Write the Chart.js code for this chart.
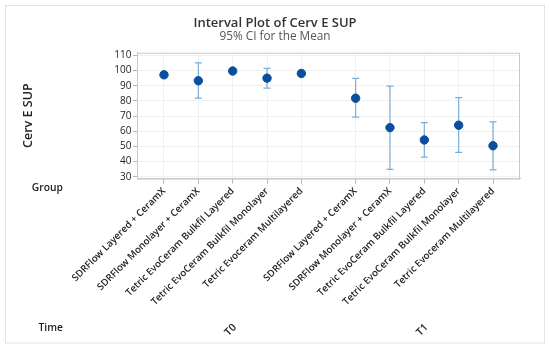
<!DOCTYPE html>
<html>
<head>
<meta charset="utf-8">
<script src="https://cdn.jsdelivr.net/npm/chart.js@4.4.0/dist/chart.umd.min.js"></script>
<style>
  html, body { margin: 0; padding: 0; background: #fff; }
  #wrap { width: 550px; height: 350px; }
</style>
</head>
<body>
<div id="wrap"><canvas id="chart"></canvas></div>
<script>
var groups = ['SDRFlow Layered + CeramX', 'SDRFlow Monolayer + CeramX', 'Tetric EvoCeram Bulkfil Layered', 'Tetric EvoCeram Bulkfil Monolayer', 'Tetric Evoceram Multilayered'];
var times = ['T0', 'T1'];
var meanT0 = [97.2, 93.3, 99.7, 95.0, 98.1];
var lowT0 = [95.6, 81.8, 98.8, 88.4, 97.0];
var highT0 = [98.8, 105.0, 100.6, 101.4, 99.2];
var meanT1 = [81.8, 62.4, 54.3, 64.0, 50.5];
var lowT1 = [69.3, 34.9, 43.0, 46.1, 34.6];
var highT1 = [94.8, 89.8, 65.7, 82.2, 66.2];
var yTicks = [30, 40, 50, 60, 70, 80, 90, 100, 110];

const FONT = "'Open Sans', 'Noto Sans', sans-serif";
const GAP = 0.58; // extra space between the two time blocks

const xOf = (t, i) => t * (groups.length + GAP) + i;

let points = [];
let xLabels = [];
[[meanT0, lowT0, highT0], [meanT1, lowT1, highT1]].forEach((s, t) => {
    groups.forEach((g, i) => {
        points.push({ x: xOf(t, i), y: s[0][i], lo: s[1][i], hi: s[2][i] });
        xLabels.push(g);
    });
});
const xMax = xOf(times.length - 1, groups.length - 1);

// error bars + extra labels
const intervalPlugin = {
    id: 'interval',
    beforeDraw: (chart) => {
        const ctx = chart.ctx;
        ctx.save();
        ctx.strokeStyle = '#e3e3e3';
        ctx.lineWidth = 1;
        ctx.strokeRect(5.5, 5.5, 539, 337.5);
        ctx.restore();
    },
    beforeDatasetsDraw: (chart) => {
        const ctx = chart.ctx, x = chart.scales.x, y = chart.scales.y;
        ctx.save();
        ctx.strokeStyle = '#78aedb';
        ctx.lineWidth = 1.2;
        for (const p of points) {
            let px = x.getPixelForValue(p.x);
            let y1 = y.getPixelForValue(p.lo), y2 = y.getPixelForValue(p.hi);
            ctx.beginPath();
            ctx.moveTo(px, y1); ctx.lineTo(px, y2);
            ctx.moveTo(px - 3.5, y1); ctx.lineTo(px + 3.5, y1);
            ctx.moveTo(px - 3.5, y2); ctx.lineTo(px + 3.5, y2);
            ctx.stroke();
        }
        ctx.restore();
    },
    afterDraw: (chart) => {
        const ctx = chart.ctx, x = chart.scales.x, a = chart.chartArea;
        ctx.save();
        // plot frame
        ctx.strokeStyle = '#c8c8c8';
        ctx.lineWidth = 1;
        ctx.strokeRect(a.left + 0.5, a.top + 0.5, a.right - a.left - 1, a.bottom - a.top);
        ctx.fillStyle = '#222';
        ctx.font = "600 10.3px " + FONT;
        ctx.textAlign = 'right';
        ctx.textBaseline = 'middle';
        ctx.fillText('Group', 63, 188);
        ctx.fillText('Time', 63, 328);
        ctx.textAlign = 'center';
        times.forEach((t, k) => {
            let cx = x.getPixelForValue(xOf(k, (groups.length - 1) / 2));
            ctx.save();
            ctx.translate(cx - 2, 330);
            ctx.rotate(-Math.PI / 4);
            ctx.fillText(t, 0, 0);
            ctx.restore();
        });
        ctx.restore();
    }
};

new Chart(document.getElementById('chart'), {
    type: 'scatter',
    data: {
        datasets: [{
            data: points,
            backgroundColor: '#0a4f9e',
            borderColor: '#0a4f9e',
            pointRadius: 4.2,
            pointHoverRadius: 4.2
        }]
    },
    options: {
        responsive: true,
        maintainAspectRatio: false,
        animation: false,
        layout: { padding: { top: 16.5, left: 30, right: 30, bottom: 0 } },
        plugins: {
            legend: { display: false },
            tooltip: { enabled: false },
            title: {
                display: true,
                text: 'Interval Plot of Cerv E SUP',
                color: '#333',
                font: { family: FONT, size: 13, weight: '600', lineHeight: 1.0 },
                padding: { top: 0, bottom: 0 }
            },
            subtitle: {
                display: true,
                text: '95% CI for the Mean',
                color: '#555',
                font: { family: FONT, size: 11.8, weight: 'normal', lineHeight: 1.0 },
                padding: { top: 1.5, bottom: 10 }
            }
        },
        scales: {
            x: {
                type: 'linear',
                min: -0.786,
                max: xMax + 0.786,
                afterFit: (scale) => { scale.height = 171.5; },
                afterBuildTicks: (scale) => { scale.ticks = points.map(p => ({ value: p.x })); },
                grid: { color: '#f0f0f0', tickColor: '#b5b5b5', tickLength: 5 },
                border: { color: '#c8c8c8' },
                ticks: {
                    autoSkip: false,
                    minRotation: 45,
                    maxRotation: 45,
                    padding: 2,
                    color: '#222',
                    font: { family: FONT, size: 9.7, weight: '600' },
                    callback: (v, i) => xLabels[i]
                }
            },
            y: {
                min: 28.9,
                max: 111.7,
                afterFit: (scale) => { scale.width = 107; },
                afterBuildTicks: (scale) => { scale.ticks = yTicks.map(v => ({ value: v })); },
                grid: { color: '#f0f0f0', tickColor: '#b5b5b5', tickLength: 4 },
                border: { color: '#c8c8c8' },
                ticks: {
                    padding: 1.5,
                    color: '#222',
                    font: { family: FONT, size: 10 }
                },
                title: {
                    display: true,
                    text: 'Cerv E SUP',
                    color: '#222',
                    font: { family: FONT, size: 12.5, weight: '600' },
                    padding: { top: -9.5, bottom: 0 }
                }
            }
        }
    },
    plugins: [intervalPlugin]
});
</script>
</body>
</html>
